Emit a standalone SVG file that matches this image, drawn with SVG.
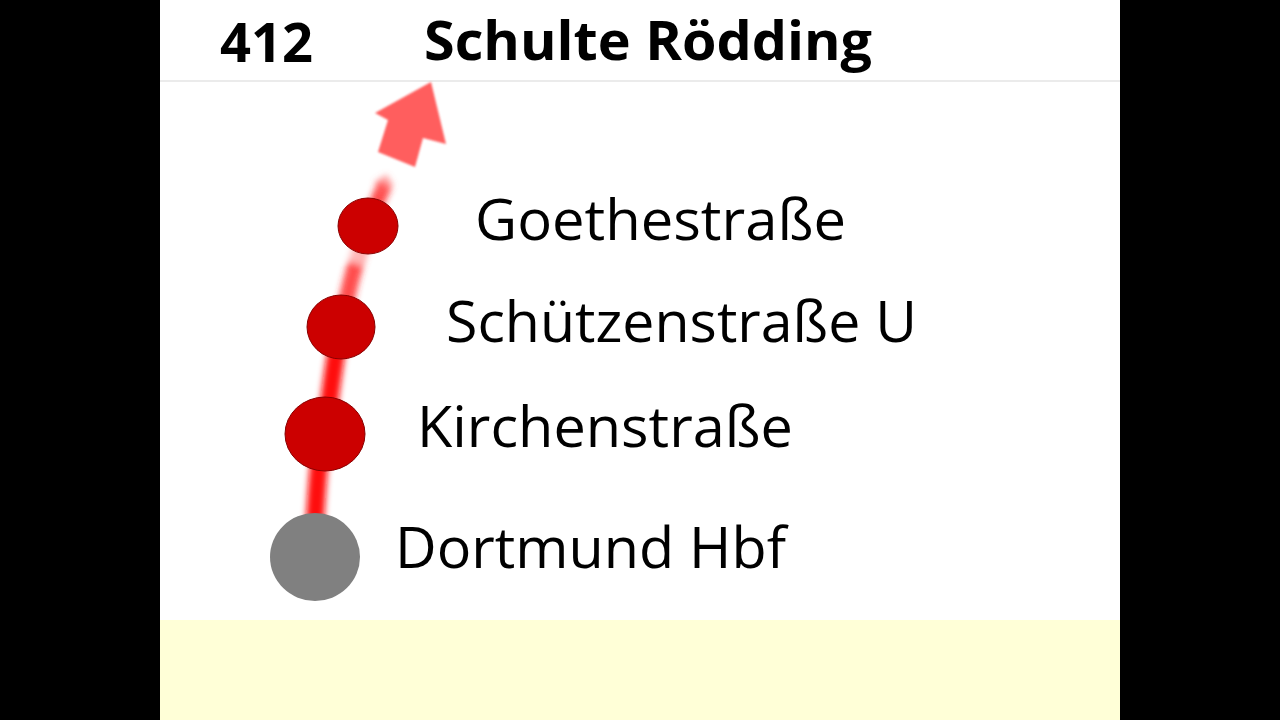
<svg xmlns="http://www.w3.org/2000/svg" width="1280" height="720" viewBox="0 0 1280 720">
<defs>
<style>
.st{font-family:"Open Sans","Noto Sans",sans-serif;font-size:56px;fill:#000}
.hd{font-family:"Open Sans","Noto Sans",sans-serif;font-weight:bold;font-size:54px;fill:#000}
.stop{fill:#CC0000;stroke:#8A0000;stroke-width:1}
</style>
<filter id="blur" x="-50%" y="-50%" width="200%" height="200%"><feGaussianBlur stdDeviation="3"/></filter>
<filter id="blur2" x="-50%" y="-50%" width="200%" height="200%"><feGaussianBlur stdDeviation="1"/></filter>
</defs>
<rect x="0" y="0" width="1280" height="720" fill="#000"/>
<rect x="160" y="0" width="960" height="720" fill="#FFFFFF"/>
<rect x="160" y="620" width="960" height="100" fill="#FFFFD7"/>
<line x1="160" y1="81" x2="1120" y2="81" stroke="#EBEBEB" stroke-width="2"/>
<g id="header">
<text class="hd" x="220" y="62" textLength="93" lengthAdjust="spacingAndGlyphs">412</text>
<text class="hd" x="424" y="60" textLength="448" lengthAdjust="spacingAndGlyphs">Schulte Rödding</text>
</g>
<g id="connectors">
<g filter="url(#blur)">
<path d="M315,520 C318,470 320,450 325,434 C331,390 334,360 341,327" fill="none" stroke="#FF1010" stroke-width="18"/>
<path d="M341,327 C348,290 355,260 368,226" fill="none" stroke="#FF3030" stroke-width="16" opacity="0.85"/>
<path d="M352,262 L360,240" fill="none" stroke="#FFFFFF" stroke-width="20" opacity="0.6"/>
<path d="M368,226 C374,210 378,198 385,185" fill="none" stroke="#FF2020" stroke-width="15" opacity="0.8"/>
<path d="M378,188 L390,180" fill="none" stroke="#FF6060" stroke-width="13" opacity="0.6"/>
</g>
<path filter="url(#blur2)" d="M431,82 L446,144 L423,138 L415,167 L378,152 L388,120 L375,113 Z" fill="#FF4D4D" opacity="0.9"/>
</g>
<g id="stop-goethestrasse">
<ellipse class="stop" cx="368" cy="226" rx="30" ry="28"/>
<text class="st" x="475" y="240" textLength="371" lengthAdjust="spacingAndGlyphs">Goethestraße</text>
</g>
<g id="stop-schuetzenstrasse">
<ellipse class="stop" cx="341" cy="327" rx="34" ry="32"/>
<text class="st" x="446" y="342" textLength="471" lengthAdjust="spacingAndGlyphs">Schützenstraße U</text>
</g>
<g id="stop-kirchenstrasse">
<ellipse class="stop" cx="325" cy="434" rx="40" ry="37"/>
<text class="st" x="417" y="447" textLength="376" lengthAdjust="spacingAndGlyphs">Kirchenstraße</text>
</g>
<g id="stop-dortmund-hbf">
<ellipse cx="315" cy="557" rx="45" ry="44" fill="#808080"/>
<text class="st" x="395" y="568" textLength="391" lengthAdjust="spacingAndGlyphs">Dortmund Hbf</text>
</g>
</svg>
